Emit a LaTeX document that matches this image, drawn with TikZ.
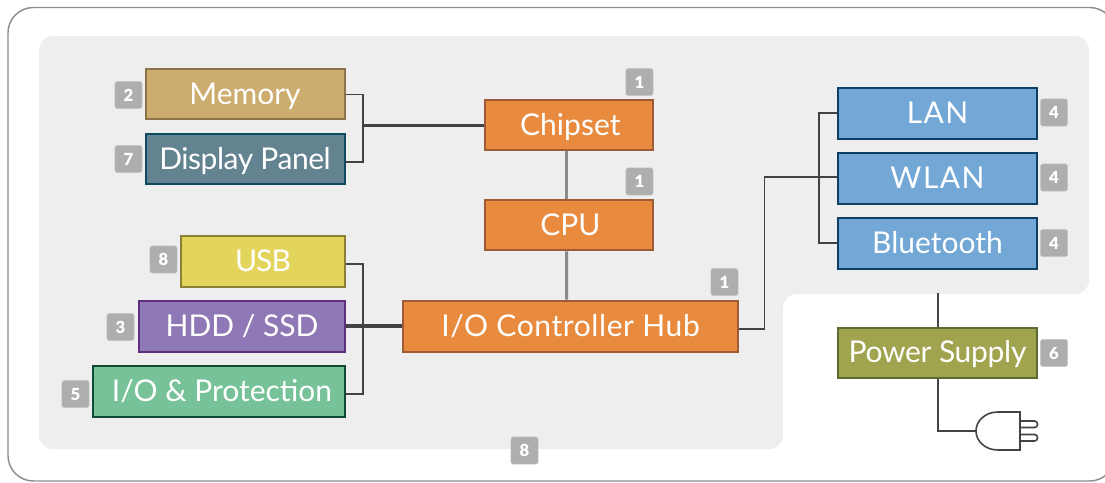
\documentclass[tikz,border=0pt]{standalone}
\usepackage{fontspec}
\setmainfont{Lato}
\newfontfamily\badgefont{Lato Black}
\definecolor{panelc}{HTML}{EEEEEE}
\definecolor{outerc}{HTML}{8E8E8E}
\definecolor{wirec}{HTML}{444142}
\definecolor{wiregray}{HTML}{8A8A8A}
\definecolor{badgec}{HTML}{ADAFAE}
\definecolor{orangef}{HTML}{E98B3F}
\definecolor{oranged}{HTML}{9E5C34}
\definecolor{bluef}{HTML}{72A7D6}
\definecolor{blued}{HTML}{0E3F64}
\newcommand{\spc}[1]{\addfontfeature{LetterSpace=#1}}
\tikzset{
  sz/.style 2 args={minimum width=#1*0.75pt, minimum height=#2*0.75pt},
  hw/.style={draw, line width=1.5pt, inner sep=0pt, text=white, font=\fontsize{22.5}{24}\selectfont, text height=17pt, text depth=1.3pt},
  orangeb/.style={hw, fill=orangef, draw=oranged},
  blueb/.style={hw, fill=bluef, draw=blued},
  badge/.style={fill=badgec, draw=badgec!70!white, line width=0.4pt, rounded corners=2pt, inner sep=0pt, minimum width=20.5pt, minimum height=20.5pt, text=white, font=\fontsize{12.5}{12}\badgefont},
  wire/.style={draw=wirec, line width=1.2pt},
  bus/.style={draw=wirec, line width=2.3pt},
  graywire/.style={draw=wiregray, line width=2.2pt},
}
\begin{document}
\begin{tikzpicture}[x=0.75pt,y=-0.75pt]
\clip (0,0) rectangle (1105,482);
\fill[white] (0,0) rectangle (1105,482);
% frame and panel
\draw[outerc, line width=1.1pt, rounded corners=19pt] (8,7.5) rectangle (1115,481);
\fill[panelc, rounded corners=10.5pt] (39,36) -- (1089,36) -- (1089,294) -- (783,294) -- (783,449) -- (39,449) -- cycle;
% boxes
\node[hw, fill={rgb,255:red,205;green,172;blue,111}, draw={rgb,255:red,140;green,114;blue,72}, sz={199}{50}] (mem) at (245,94.3) {Memory};
\node[hw, fill={rgb,255:red,100;green,131;blue,144}, draw={rgb,255:red,14;green,74;blue,95}, sz={199}{50}] (disp) at (245,159.3) {\spc{-1.5}Display Panel};
\node[orangeb, sz={168.5}{50}] (chip) at (569,125.3) {\hspace{2pt}Chipset};
\node[orangeb, sz={168.5}{50}] (cpu) at (569,225.3) {\hspace{2pt}CPU};
\node[orangeb, sz={335.5}{51}] (ioh) at (570.5,326) {\spc{2}I/O Controller Hub};
\node[hw, fill={rgb,255:red,227;green,213;blue,91}, draw={rgb,255:red,138;green,127;blue,53}, sz={164}{51}] (usb) at (263,261) {\spc{-3}USB};
\node[hw, fill={rgb,255:red,142;green,121;blue,182}, draw={rgb,255:red,94;green,46;blue,128}, sz={206}{51}] (hdd) at (242,326) {HDD / SSD};
\node[hw, fill={rgb,255:red,119;green,194;blue,152}, draw={rgb,255:red,14;green,74;blue,52}, sz={252}{51}] (iop) at (219,391) {\hspace{4.5pt}I/O \& Protection};
\node[blueb, sz={199}{51}] (lan) at (937.5,113) {\spc{4.5}LAN};
\node[blueb, sz={199}{51}] (wlan) at (937.5,178) {\spc{5}WLAN};
\node[blueb, sz={199}{51}] (bt) at (937.5,243) {Bluetooth};
\node[hw, fill={rgb,255:red,160;green,164;blue,78}, draw={rgb,255:red,91;green,107;blue,53}, sz={199}{50}] (psu) at (937.5,352.5) {\spc{-1}Power Supply};
% badges
\node[badge] (b2) at (128.5,95) {2};
\node[badge] (b7) at (128.5,159) {7};
\node[badge] (b1a) at (639.5,82) {1};
\node[badge] (b1b) at (639.5,181.5) {1};
\node[badge] (b1c) at (724.5,282) {1};
\node[badge] (b8a) at (163.5,259.5) {8};
\node[badge] (b3) at (120.5,327) {3};
\node[badge] (b5) at (75.5,394) {5};
\node[badge] (b4a) at (1054,112.5) {4};
\node[badge] (b4b) at (1054,177.5) {4};
\node[badge] (b4c) at (1054,243) {4};
\node[badge] (b6) at (1054,353) {6};
\node[badge] (b8b) at (524.5,450.5) {8};
% junction coordinates
\coordinate (busL) at (363,125.3);
\coordinate (busLb) at (363,326);
\coordinate (riser) at (764.5,176.7);
\coordinate (busR) at (819,176.7);
\coordinate (ptop) at (938,293);
\coordinate (pelbow) at (938,431);
\coordinate (plug) at (976,431);
% connectors
\draw[wire] (mem.east) -| (busL) |- ([yshift=-2.1pt]disp.east);
\draw[bus] (busL) -- (chip.west);
\draw[graywire] ([xshift=-1.8pt]chip.south) -- ([xshift=-1.8pt]cpu.north);
\draw[graywire] ([xshift=-1.8pt]cpu.south) -- ([xshift=-2.9pt]ioh.north);
\draw[wire] ([yshift=-2.25pt]usb.east) -| (busLb) |- ([yshift=-2.25pt]iop.east);
\draw[bus] (hdd.east) -- (ioh.west);
\draw[wire] ([yshift=-2.25pt]ioh.east) -| (riser) -- (busR) -- ([yshift=0.975pt]wlan.west);
\draw[wire] (lan.west) -| (busR) |- (bt.west);
\draw[wire] (ptop) -- (ptop |- psu.north);
\draw[wire] (pelbow |- psu.south) -- (pelbow) -- (plug);
% plug
\draw[wire, fill=white] (1020,412) -- (1020,450) -- (998,450) .. controls (985,450) and (976,441) .. (plug) .. controls (976,421) and (985,412) .. (998,412) -- cycle;
\draw[wire, rounded corners=2.2pt] (1020,421) -- (1037.5,421) -- (1037.5,427.5) -- (1020,427.5);
\draw[wire, rounded corners=2.2pt] (1020,434.5) -- (1037.5,434.5) -- (1037.5,441) -- (1020,441);
\end{tikzpicture}
\end{document}
